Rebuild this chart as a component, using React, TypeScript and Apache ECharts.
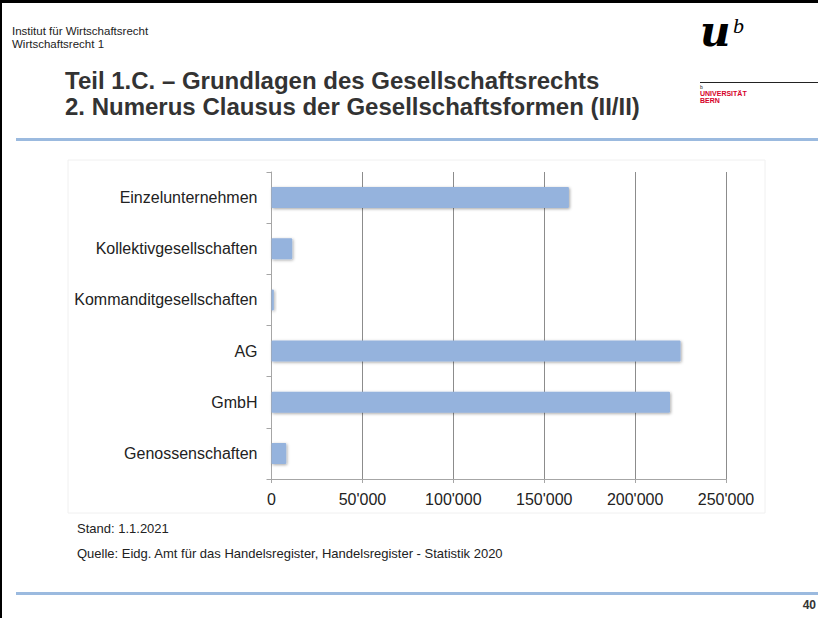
import React, { useEffect, useRef } from "react";
import * as echarts from "echarts";

const categories = [
  "Einzelunternehmen",
  "Kollektivgesellschaften",
  "Kommanditgesellschaften",
  "AG",
  "GmbH",
  "Genossenschaften",
];
const counts = [163600, 11400, 1300, 225000, 219200, 8100];
const axisMax = 250000;
const axisStep = 50000;

const headerLines = ["Institut für Wirtschaftsrecht", "Wirtschaftsrecht 1"];
const titleLines = [
  "Teil 1.C. – Grundlagen des Gesellschaftsrechts",
  "2. Numerus Clausus der Gesellschaftsformen (II/II)",
];
const noteLines = [
  "Stand: 1.1.2021",
  "Quelle: Eidg. Amt für das Handelsregister, Handelsregister - Statistik 2020",
];
const pageNumber = "40";

const fmt = (v: number) =>
  String(v).replace(/\B(?=(\d{3})+(?!\d))/g, "'");

export default function App() {
  const ref = useRef<HTMLDivElement>(null);
  useEffect(() => {
    if (!ref.current) return;
    const chart = echarts.init(ref.current, null, { renderer: "svg" });
    const font = "'Liberation Sans', Arial, sans-serif";
    chart.setOption({
      animation: false,
      backgroundColor: "#ffffff",
      grid: { left: 271.5, right: 92, top: 172, bottom: 139, containLabel: false },
      xAxis: {
        type: "value",
        min: 0,
        max: axisMax,
        interval: axisStep,
        axisLine: { show: true, lineStyle: { color: "#a6a6a6", width: 1 } },
        axisTick: { show: true, length: 4, lineStyle: { color: "#a6a6a6" } },
        splitLine: { show: true, lineStyle: { color: "#8c8c8c", width: 1 } },
        axisLabel: {
          formatter: (v: number) => fmt(v),
          color: "#222222",
          fontSize: 16,
          fontFamily: font,
          margin: 12,
        },
      },
      yAxis: {
        type: "category",
        data: categories,
        inverse: true,
        axisLine: { show: true, lineStyle: { color: "#a6a6a6", width: 1 } },
        axisTick: { show: true, length: 5, alignWithLabel: false, lineStyle: { color: "#a6a6a6" } },
        splitLine: { show: false },
        axisLabel: {
          color: "#222222",
          fontSize: 16,
          fontFamily: font,
          margin: 14,
        },
      },
      series: [
        {
          type: "bar",
          data: counts,
          barWidth: 21,
          itemStyle: {
            color: "#95b3dd",
            borderRadius: 1,
            shadowBlur: 3,
            shadowColor: "rgba(0,0,0,0.35)",
            shadowOffsetX: 1,
            shadowOffsetY: 1,
          },
        },
      ],
      graphic: [
        // slide frame
        { type: "rect", shape: { x: 0, y: 0, width: 2, height: 618 }, style: { fill: "#000" }, z: 100 },
        { type: "rect", shape: { x: 0, y: 0, width: 818, height: 3 }, style: { fill: "#000" }, z: 100 },
        // chart area box
        {
          type: "rect",
          shape: { x: 68, y: 160, width: 697, height: 353 },
          style: { fill: "none", stroke: "#f0f0f0", lineWidth: 1 },
          z: -1,
        },
        // header
        {
          type: "text",
          x: 12,
          y: 31,
          style: { text: headerLines[0], font: `11.5px ${font}`, fill: "#222", verticalAlign: "middle" },
        },
        {
          type: "text",
          x: 12,
          y: 44,
          style: { text: headerLines[1], font: `11.5px ${font}`, fill: "#222", verticalAlign: "middle" },
        },
        {
          type: "text",
          x: 65,
          y: 80,
          style: { text: titleLines[0], font: `bold 24px ${font}`, fill: "#333", verticalAlign: "middle" },
        },
        {
          type: "text",
          x: 65,
          y: 106,
          style: { text: titleLines[1], font: `bold 24px ${font}`, fill: "#333", verticalAlign: "middle" },
        },
        // blue rules
        { type: "rect", shape: { x: 16, y: 138, width: 802, height: 3 }, style: { fill: "#9bbadf" } },
        { type: "rect", shape: { x: 16, y: 592, width: 802, height: 3 }, style: { fill: "#9bbadf" } },
        // logo
        {
          type: "text",
          x: 700,
          y: 52,
          style: {
            text: "u",
            font: `bold italic 42px 'DejaVu Serif', 'Liberation Serif', serif`,
            fill: "#000",
            verticalAlign: "bottom",
          },
        },
        {
          type: "text",
          x: 733,
          y: 25,
          style: {
            text: "b",
            font: `italic 22px 'Liberation Serif', serif`,
            fill: "#000",
            verticalAlign: "middle",
          },
        },
        { type: "line", shape: { x1: 700, y1: 82.5, x2: 818, y2: 82.5 }, style: { stroke: "#222", lineWidth: 1 } },
        {
          type: "text",
          x: 700,
          y: 86.5,
          style: { text: "b", font: `5px ${font}`, fill: "#222", verticalAlign: "middle" },
        },
        {
          type: "text",
          x: 700,
          y: 93,
          style: { text: "UNIVERSITÄT", font: `bold 7px ${font}`, fill: "#d6002a", verticalAlign: "middle" },
        },
        {
          type: "text",
          x: 700,
          y: 100.5,
          style: { text: "BERN", font: `bold 7px ${font}`, fill: "#d6002a", verticalAlign: "middle" },
        },
        // notes
        {
          type: "text",
          x: 77,
          y: 528,
          style: { text: noteLines[0], font: `13px ${font}`, fill: "#222", verticalAlign: "middle" },
        },
        {
          type: "text",
          x: 77,
          y: 553,
          style: { text: noteLines[1], font: `13px ${font}`, fill: "#222", verticalAlign: "middle" },
        },
        {
          type: "text",
          x: 816,
          y: 605,
          style: {
            text: pageNumber,
            font: `bold 12px ${font}`,
            fill: "#333",
            align: "right",
            verticalAlign: "middle",
          },
        },
      ],
    });
    return () => chart.dispose();
  }, []);
  return (
    <div
      ref={ref}
      style={{ position: "absolute", left: 0, top: 0, width: 818, height: 618 }}
    />
  );
}
